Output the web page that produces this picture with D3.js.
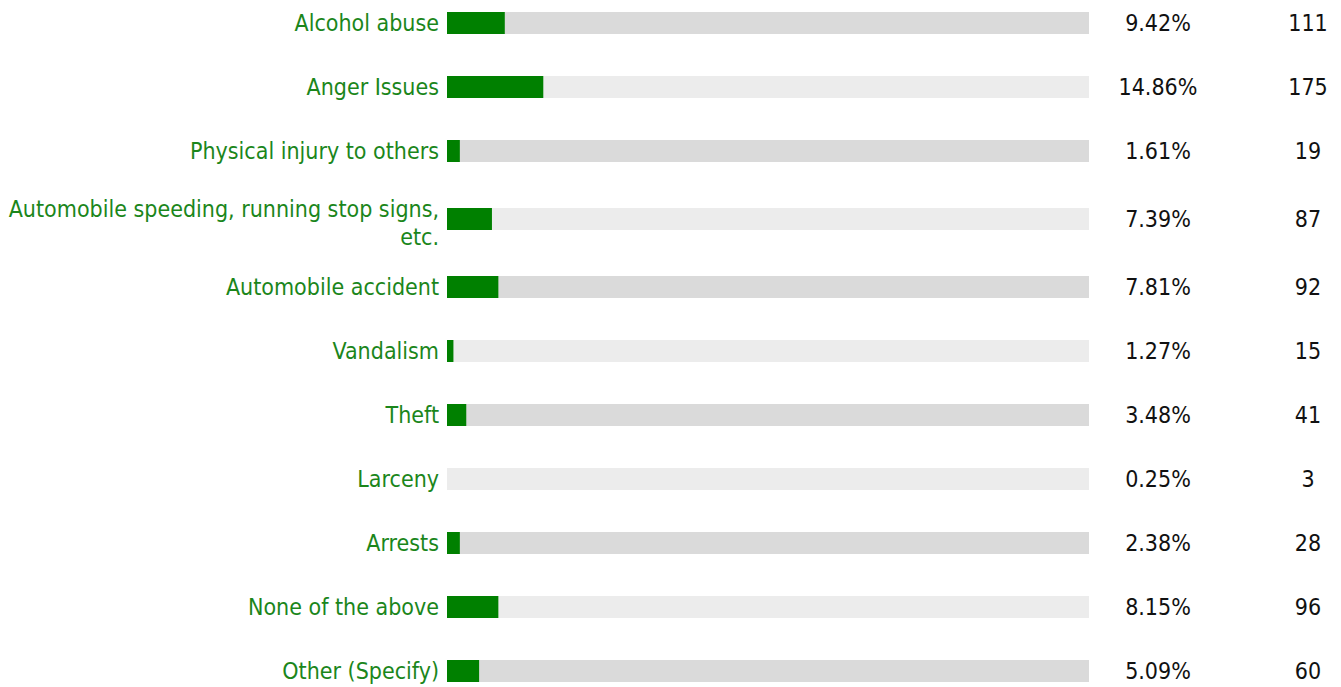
<!DOCTYPE html>
<html>
<head>
<meta charset="utf-8">
<script src="https://cdn.jsdelivr.net/npm/d3@7"></script>
<style>
  body { margin: 0; background: #fff; }
  text { font-family: "DejaVu Sans Condensed", "DejaVu Sans", sans-serif; }
</style>
</head>
<body>
<div id="chart"></div>
<script>
// chart data
var labels = [
  "Alcohol abuse",
  "Anger Issues",
  "Physical injury to others",
  "Automobile speeding, running stop signs, etc.",
  "Automobile accident",
  "Vandalism",
  "Theft",
  "Larceny",
  "Arrests",
  "None of the above",
  "Other (Specify)"
];
var percents = [9.42, 14.86, 1.61, 7.39, 7.81, 1.27, 3.48, 0.25, 2.38, 8.15, 5.09];
var counts = [111, 175, 19, 87, 92, 15, 41, 3, 28, 96, 60];

var svgWidth = 1341;
var svgHeight = 687;

var fontSize = 23;
var labelRight = 439;
var trackLeft = 447;
var trackRight = 1089;
var barHeight = 22;
var lineHeight = 28;

var svg = d3.select("#chart")
  .append("svg")
  .attr("width", svgWidth)
  .attr("height", svgHeight);

// x scale, 0-100 percent (bars drawn at whole percent like the survey tool does)
var x = d3.scaleLinear()
  .domain([0, 100])
  .range([trackLeft, trackRight]);

var data = labels.map(function(l, i) {
  return { label: l, pct: percents[i], count: counts[i] };
});

// wrap label text into lines so we know row heights
var measure = svg.append("text").attr("font-size", fontSize);
function wrap(str, maxW) {
  var words = str.split(" ");
  var lines = [];
  var cur = "";
  words.forEach(function(w) {
    var test = cur ? cur + " " + w : w;
    measure.text(test);
    if (measure.node().getComputedTextLength() > maxW && cur) {
      lines.push(cur);
      cur = w;
    } else {
      cur = test;
    }
  });
  lines.push(cur);
  return lines;
}
data.forEach(function(d) { d.lines = wrap(d.label, 434); });
measure.remove();

// row centers, two-line rows are a bit taller
var pos = -9;
data.forEach(function(d) {
  var h = d.lines.length > 1 ? 72 : 64;
  d.cy = pos + h / 2;
  pos += h;
});

var rows = svg.selectAll("g.row")
  .data(data)
  .enter()
  .append("g")
  .attr("class", "row")
  .attr("transform", d => `translate(0, ${d.cy})`);

// track
rows.append("rect")
  .attr("x", trackLeft)
  .attr("y", -barHeight / 2)
  .attr("width", trackRight - trackLeft)
  .attr("height", barHeight)
  .attr("fill", (d, i) => i % 2 === 0 ? "#dadada" : "#ececec");

// green bar
rows.append("rect")
  .attr("x", x(0))
  .attr("y", -barHeight / 2)
  .attr("width", d => x(Math.round(d.pct)) - x(0))
  .attr("height", barHeight)
  .attr("fill", "#008000");

// labels
rows.append("text")
  .attr("text-anchor", "end")
  .attr("font-size", fontSize)
  .attr("fill", "#1b861b")
  .each(function(d) {
    var t = d3.select(this);
    var first = d.lines.length > 1 ? -2 : 8;
    d.lines.forEach(function(line, k) {
      t.append("tspan")
        .attr("x", labelRight)
        .attr("y", first + k * lineHeight)
        .text(line);
    });
  });

// percent
rows.append("text")
  .attr("x", 1158)
  .attr("y", 8)
  .attr("text-anchor", "middle")
  .attr("font-size", fontSize)
  .attr("fill", "#111")
  .text(d => d.pct.toFixed(2) + "%");

// count
rows.append("text")
  .attr("x", 1308)
  .attr("y", 8)
  .attr("text-anchor", "middle")
  .attr("font-size", fontSize)
  .attr("fill", "#111")
  .text(d => d.count);
</script>
</body>
</html>
